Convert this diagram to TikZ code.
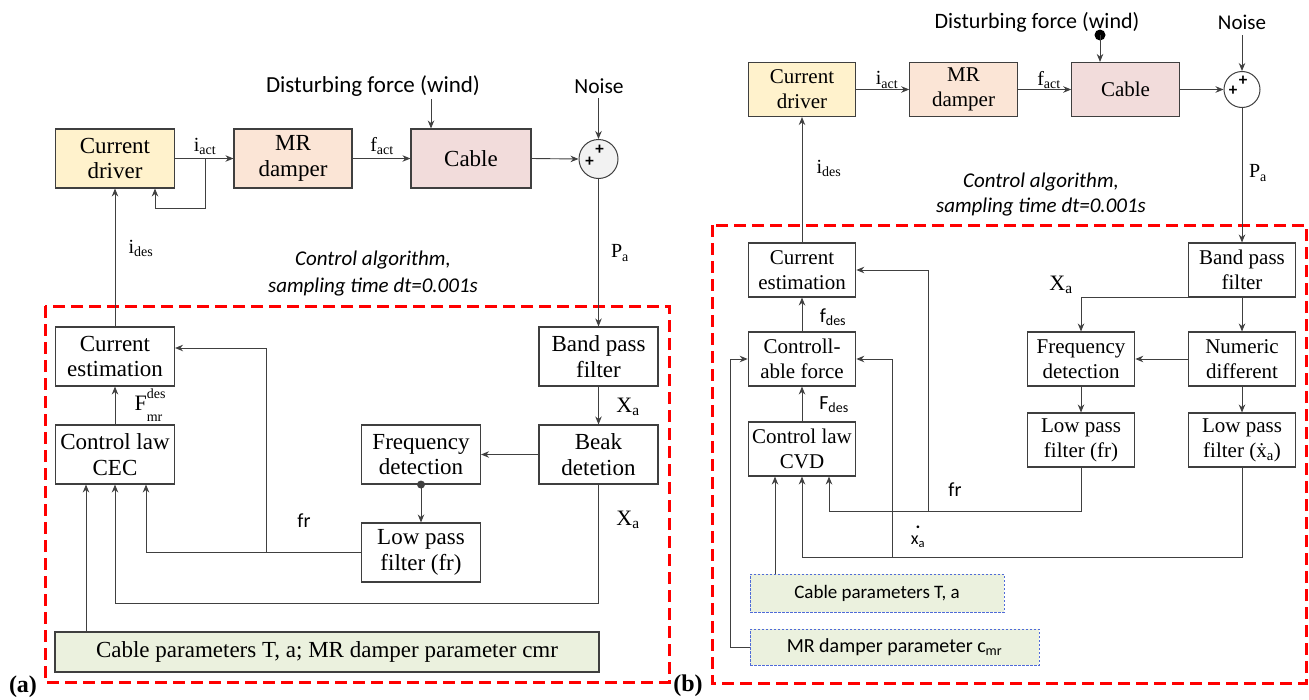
\documentclass[tikz,border=0pt]{standalone}
\usepackage{fontspec}
\setmainfont{Liberation Serif}
\newfontfamily\carl{Carlito}
\usetikzlibrary{arrows.meta}
\definecolor{drvc}{HTML}{FFF2CC}
\definecolor{mrc}{HTML}{FBE5D6}
\definecolor{cabc}{HTML}{F2DCDB}
\definecolor{parc}{HTML}{EBF1DE}
\definecolor{sumc}{HTML}{F2F2F2}
\definecolor{bordc}{HTML}{3F3F3F}
\definecolor{linec}{HTML}{404040}
\definecolor{redc}{HTML}{FF0000}
\definecolor{bluec}{HTML}{4F6BD8}
\tikzset{
 blkA/.style={draw=bordc, line width=1.1pt, minimum width=119pt, minimum height=59pt, inner sep=0pt, align=center, font=\rmfamily\fontsize{23}{25.5}\selectfont},
 blkB/.style={draw=bordc, line width=1.1pt, minimum width=107.5pt, minimum height=54pt, inner sep=0pt, align=center, font=\rmfamily\fontsize{21}{25}\selectfont},
 arr/.style={draw=linec, line width=0.9pt, -{Stealth[length=8pt,width=6.5pt]}},
 ln/.style={draw=linec, line width=0.9pt},
 lbl/.style={inner sep=0pt, font=\rmfamily\fontsize{20}{24}\selectfont},
 slbl/.style={inner sep=0pt, font=\carl\fontsize{20}{24}\selectfont},
 italbl/.style={inner sep=0pt, align=center, font=\carl\itshape\fontsize{21}{27}\selectfont},
 redbox/.style={draw=redc, line width=3pt, dash pattern=on 12pt off 6pt},
 parB/.style={draw=bluec, line width=0.8pt, dash pattern=on 2.5pt off 1.5pt, fill=parc, inner sep=0pt, font=\carl\fontsize{20}{24}\selectfont},
 sumst/.style={circle, draw=bordc, line width=1pt, inner sep=0pt},
 plus/.style={inner sep=0pt, font=\carl\bfseries\fontsize{17}{17}\selectfont},
 panel/.style={inner sep=0pt, font=\rmfamily\bfseries\fontsize{24}{26}\selectfont}
}
\begin{document}
\begin{tikzpicture}[x=1pt,y=-1pt]
\useasboundingbox (0,0) rectangle (1309,699);
% ================= (a) =================
\draw[redbox] (45,306) rectangle (669,682);
\node[blkA, fill=drvc] (drvA) at (115,158.5) {Current\\driver};
\node[blkA, fill=mrc, minimum width=118pt] (mrA) at (293,158.5) {MR\\damper};
\node[blkA, fill=cabc, minimum width=120pt] (cabA) at (471,158.5) {Cable};
\node[sumst, fill=sumc, minimum size=39pt] (sumA) at (598.5,159) {};
\node[plus] (pA1) at (589.5,161.5) {+};
\node[plus] (pA2) at (599.5,150) {+};
\node[slbl, font=\carl\fontsize{23}{24}\selectfont] (dfA) at (373,86) {Disturbing force (wind)};
\node[slbl, font=\carl\fontsize{21.5}{24}\selectfont] (noA) at (599,86) {Noise};
\node[blkA] (ceA) at (115,356.5) {Current\\estimation};
\node[blkA] (clA) at (115,454.5) {Control law\\CEC};
\node[blkA] (bpA) at (598.5,356.5) {Band pass\\filter};
\node[blkA] (bdA) at (598.5,454.5) {Beak\\detetion};
\node[blkA] (fdA) at (421,454.5) {Frequency\\detection};
\node[blkA] (lpA) at (421,552.5) {Low pass\\filter (fr)};
\node[blkA, fill=parc, minimum width=544pt, minimum height=40pt] (cpA) at (327,652) {Cable parameters T, a; MR damper parameter cmr};
\node[italbl] (caA) at (373,273.5) {Control algorithm,\\sampling time dt=0.001s};
\node[panel] (labA) at (23,687) {(a)};
% labels
\node[lbl] (iactA) at (205,146) {i\textsubscript{act}};
\node[lbl] (factA) at (382,146) {f\textsubscript{act}};
\node[lbl] (idesA) at (141,248) {i\textsubscript{des}};
\node[lbl] (paA) at (620,253) {P\textsubscript{a}};
\node[lbl, font=\rmfamily\fontsize{22}{24}\selectfont] (fmrA) at (150,405) {F\begin{tabular}[c]{@{}l@{}}\fontsize{14}{11}\selectfont des\\[-1pt]\fontsize{14}{11}\selectfont mr\end{tabular}};
\node[lbl, font=\rmfamily\fontsize{22}{24}\selectfont] (xaA1) at (628,407) {X\textsubscript{a}};
\node[lbl, font=\rmfamily\fontsize{22}{24}\selectfont] (xaA2) at (628,520) {X\textsubscript{a}};
\node[slbl] (frA) at (304,521) {fr};
% connectors
\draw[arr] (drvA.east) -- (mrA.west);
\coordinate (jA) at (205,158.5);
\coordinate (fbA) at (155,208);
\draw[ln] (jA) |- (fbA);
\draw[arr] (fbA) -- (fbA |- drvA.south);
\draw[arr] (mrA.east) -- (cabA.west);
\draw[arr] (cabA.east) -- (sumA.west);
\coordinate (wA) at (431,99);
\draw[arr] (wA) -- (wA |- cabA.north);
\coordinate (nA) at (598.5,98);
\draw[arr] (nA) -- (sumA.north);
\draw[arr] (sumA.south) -- (bpA.north);
\draw[arr] (ceA.north) -- (drvA.south);
\draw[arr] (clA.north) -- (ceA.south);
\draw[arr] (bpA.south) -- (bdA.north);
\draw[arr] (bdA.west) -- (fdA.east);
\fill[linec] (fdA.south) circle (4pt);
\draw[arr] (fdA.south) -- (lpA.north);
\coordinate (cA1) at (146,552.5);
\draw[arr] (lpA.west) -- (cA1) -- (cA1 |- clA.south);
\coordinate (bA) at (266,552.5);
\coordinate (tA) at (266,348);
\draw[arr] (bA) -- (tA) -- (tA -| ceA.east);
\coordinate (lA) at (598.5,603);
\draw[arr] (bdA.south) -- (lA) -- (lA -| clA.south) -- (clA.south);
\coordinate (pA) at (86,0);
\draw[arr] (pA |- cpA.north) -- (pA |- clA.south);
% ================= (b) =================
\draw[redbox] (712,225) rectangle (1306,683);
\node[blkB, fill=drvc] (drvB) at (802,89.5) {Current\\driver};
\node[blkB, fill=mrc] (mrB) at (963.5,89.5) {MR\\damper};
\node[blkB, fill=cabc] (cabB) at (1125.5,89.5) {Cable};
\node[sumst, fill=white, minimum size=36pt] (sumB) at (1242,89.5) {};
\node[plus] (pB1) at (1233,91) {+};
\node[plus] (pB2) at (1243,81) {+};
\node[slbl, font=\carl\fontsize{22}{24}\selectfont] (dfB) at (1037,22) {Disturbing force (wind)};
\node[slbl, font=\carl\fontsize{21}{24}\selectfont] (noB) at (1242,22) {Noise};
\node[blkB] (ceB) at (802,270) {Current\\estimation};
\node[blkB] (cfB) at (802,359) {Controll-\\able force};
\node[blkB] (cvB) at (802,449) {Control law\\CVD};
\node[blkB] (bpB) at (1242,270) {Band pass\\filter};
\node[blkB] (ndB) at (1242,359) {Numeric\\different};
\node[blkB] (fdB) at (1081,359) {Frequency\\detection};
\node[blkB] (lfB) at (1081,440) {Low pass\\filter (fr)};
\node[blkB] (lxB) at (1242,440) {Low pass\\filter (\.{x}\textsubscript{a})};
\node[parB, minimum width=254pt, minimum height=38pt, font=\carl\fontsize{19}{24}\selectfont] (cpB) at (877,593) {Cable parameters T, a};
\node[parB, minimum width=289pt, minimum height=36pt] (mpB) at (894.5,647) {MR damper parameter c\textsubscript{mr}};
\node[italbl, font=\carl\itshape\fontsize{21}{25}\selectfont] (caB) at (1041,194.5) {Control algorithm,\\sampling time dt=0.001s};
\node[panel] (labB) at (688,686) {(b)};
% labels
\node[lbl] (iactB) at (887,80) {i\textsubscript{act}};
\node[lbl] (factB) at (1049,80) {f\textsubscript{act}};
\node[lbl] (idesB) at (829,168) {i\textsubscript{des}};
\node[lbl] (paB) at (1258,173) {P\textsubscript{a}};
\node[lbl, font=\rmfamily\fontsize{22}{24}\selectfont] (xaB) at (1061,285) {X\textsubscript{a}};
\node[slbl] (fdesB) at (833,317) {f\textsubscript{des}};
\node[slbl] (FdesB) at (834,405) {F\textsubscript{des}};
\node[slbl] (frB) at (955,490) {fr};
\node[slbl, align=center, font=\carl\fontsize{18}{16}\selectfont] (xdB) at (918,537) {\textbf{.}\\x\textsubscript{a}};
% connectors
\draw[arr] (drvB.east) -- (mrB.west);
\draw[arr] (mrB.east) -- (cabB.west);
\draw[arr] (cabB.east) -- (sumB.west);
\coordinate (wB) at (1100,35);
\fill[black] (wB) circle (5.5pt);
\draw[arr] (wB) -- (wB |- cabB.north);
\coordinate (nB) at (1242,35);
\draw[arr] (nB) -- (sumB.north);
\draw[arr] (sumB.south) -- (bpB.north);
\draw[arr] (ceB.north) -- (drvB.south);
\draw[arr] (bpB.south) -- (ndB.north);
\draw[arr] (bpB.south west) -| (fdB.north);
\draw[arr] (ndB.west) -- (fdB.east);
\draw[arr] (fdB.south) -- (lfB.north);
\draw[arr] (ndB.south) -- (lxB.north);
\draw[arr] (cfB.north) -- (ceB.south);
\draw[arr] (cvB.north) -- (cfB.south);
\coordinate (fB1) at (829,511);
\draw[arr] (lfB.south) |- (fB1) -- (fB1 |- cvB.south);
\coordinate (fB2) at (928,511);
\draw[arr] (fB2) |- (ceB.east);
\coordinate (xB1) at (802,557);
\draw[arr] (lxB.south) |- (xB1) -- (cvB.south);
\coordinate (xB2) at (892,557);
\draw[arr] (xB2) |- (cfB.east);
\coordinate (pB) at (775,0);
\draw[arr] (pB |- cpB.north) -- (pB |- cvB.south);
\coordinate (mB) at (730,647);
\draw[ln] (mpB.west) -- (mB);
\draw[arr] (mB) |- (cfB.west);
\end{tikzpicture}
\end{document}
